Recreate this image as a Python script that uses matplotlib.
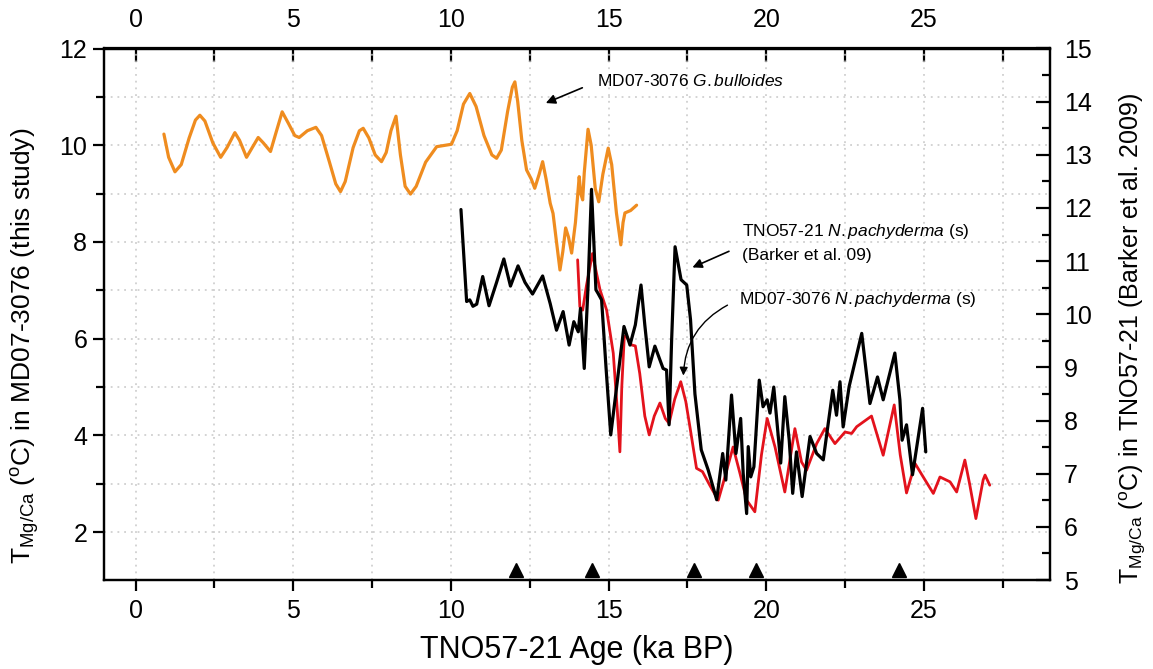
import matplotlib
matplotlib.use("Agg")
import matplotlib.pyplot as plt
from matplotlib.ticker import MultipleLocator

plt.rcParams['font.family'] = ['Liberation Sans', 'DejaVu Sans']
plt.rcParams['mathtext.fontset'] = 'custom'
plt.rcParams['mathtext.rm'] = 'Liberation Sans'
plt.rcParams['mathtext.it'] = 'Liberation Sans:italic'
plt.rcParams['mathtext.default'] = 'regular'

# ---- data (ages in ka BP) ----
bull_age = [0.90, 1.05, 1.25, 1.45, 1.70, 1.90, 2.04, 2.20, 2.45, 2.70, 2.90, 3.15, 3.30, 3.52, 3.70,
            3.89, 4.05, 4.28, 4.45, 4.65, 4.85, 5.05, 5.19, 5.45, 5.72, 5.90, 6.15, 6.35, 6.50, 6.65,
            6.90, 7.10, 7.22, 7.40, 7.60, 7.80, 7.95, 8.10, 8.26, 8.40, 8.55, 8.72, 8.90, 9.20, 9.55,
            10.02, 10.20, 10.40, 10.60, 10.80, 11.05, 11.30, 11.45, 11.60, 11.80, 11.95, 12.03, 12.12,
            12.25, 12.40, 12.55, 12.66, 12.80, 12.91, 13.02, 13.15, 13.24, 13.35, 13.46, 13.55, 13.64,
            13.73, 13.83, 13.95, 14.07, 14.12, 14.18, 14.23, 14.35, 14.45, 14.58, 14.69, 14.82, 14.99,
            15.10, 15.25, 15.39, 15.46, 15.52, 15.70, 15.89]
bull_temp = [10.23, 9.75, 9.45, 9.60, 10.15, 10.52, 10.62, 10.50, 10.05, 9.75, 9.95, 10.26, 10.10, 9.75, 9.95,
             10.16, 10.05, 9.87, 10.25, 10.69, 10.45, 10.20, 10.16, 10.30, 10.37, 10.20, 9.65, 9.20, 9.04, 9.25,
             9.95, 10.30, 10.35, 10.15, 9.80, 9.66, 9.85, 10.30, 10.60, 9.80, 9.15, 8.99, 9.15, 9.65, 9.97,
             10.02, 10.30, 10.85, 11.07, 10.80, 10.20, 9.80, 9.73, 9.90, 10.70, 11.20, 11.31, 10.90,
             10.10, 9.49, 9.30, 9.11, 9.40, 9.66, 9.30, 8.80, 8.59, 8.00, 7.42, 7.80, 8.29,
             8.10, 7.77, 8.40, 9.35, 9.00, 8.87, 9.43, 10.33, 10.00, 9.10, 8.83, 9.40, 9.94,
             9.60, 8.60, 7.94, 8.40, 8.60, 8.65, 8.76]

tno_age = [10.32, 10.50, 10.60, 10.70, 10.82, 11.01, 11.21, 11.45, 11.68, 11.89, 12.13, 12.35, 12.59, 12.91,
           13.15, 13.35, 13.56, 13.75, 13.90, 14.04, 14.11, 14.23, 14.35, 14.46, 14.60, 14.67, 14.78, 14.92,
           15.07, 15.25, 15.49, 15.68, 15.85, 16.03, 16.15, 16.29, 16.47, 16.73, 16.84, 16.92, 17.00, 17.11,
           17.30, 17.48, 17.60, 17.74, 17.94, 18.16, 18.43, 18.62, 18.72, 18.90, 19.04, 19.19, 19.27, 19.38,
           19.43, 19.51, 19.61, 19.78, 19.90, 20.03, 20.12, 20.24, 20.46, 20.59, 20.73, 20.84, 20.96, 21.14,
           21.39, 21.60, 21.81, 22.11, 22.23, 22.34, 22.44, 22.63, 23.03, 23.29, 23.53, 23.71, 24.08, 24.24,
           24.31, 24.45, 24.64, 24.96, 25.06]
tno_temp = [11.97, 10.24, 10.27, 10.15, 10.19, 10.71, 10.16, 10.60, 11.04, 10.53, 10.91, 10.60, 10.38, 10.72,
            10.20, 9.70, 10.05, 9.42, 9.86, 9.67, 10.11, 8.98, 10.52, 12.35, 10.46, 10.39, 10.27, 9.00,
            7.73, 8.60, 9.77, 9.42, 9.80, 10.55, 9.80, 9.01, 9.40, 8.98, 8.95, 7.92, 9.50, 11.27,
            10.65, 10.55, 9.90, 8.50, 7.45, 7.07, 6.51, 7.38, 6.88, 8.48, 7.38, 8.04, 7.01, 6.25,
            7.51, 6.94, 7.13, 8.76, 8.26, 8.39, 8.14, 8.63, 7.20, 8.45, 7.63, 6.63, 7.41, 6.57,
            7.70, 7.38, 7.26, 8.57, 8.10, 8.73, 7.88, 8.64, 9.64, 8.32, 8.82, 8.39, 9.27, 8.39,
            7.63, 7.92, 6.98, 8.23, 7.41]

pachy_age = [14.02, 14.09, 14.18, 14.30, 14.49, 14.62, 14.73, 14.94, 15.15, 15.28, 15.36, 15.42, 15.50, 15.57,
             15.73, 15.85, 15.99, 16.15, 16.29, 16.45, 16.63, 16.80, 16.92, 17.10, 17.29, 17.45, 17.58, 17.79,
             17.98, 18.21, 18.48, 18.69, 18.95, 19.17, 19.38, 19.64, 19.85, 20.03, 20.28, 20.59, 20.91, 21.12,
             21.28, 21.60, 21.86, 22.18, 22.50, 22.71, 22.87, 23.34, 23.71, 24.06, 24.25, 24.45, 24.72, 24.98,
             25.30, 25.51, 25.83, 26.04, 26.30, 26.45, 26.65, 26.88, 26.94, 27.09]
pachy_temp = [7.63, 6.66, 6.59, 7.10, 7.76, 7.35, 7.01, 6.59, 5.70, 4.50, 3.66, 5.00, 6.05, 6.04,
              5.87, 5.85, 5.28, 4.40, 4.01, 4.40, 4.67, 4.35, 4.25, 4.75, 5.11, 4.70, 4.18, 3.32,
              3.25, 2.97, 2.66, 3.14, 3.76, 3.21, 2.66, 2.42, 3.60, 4.35, 3.76, 2.83, 4.14, 3.45,
              3.28, 3.83, 4.14, 3.83, 4.07, 4.04, 4.18, 4.40, 3.59, 4.63, 3.60, 2.81, 3.42, 3.14,
              2.80, 3.14, 3.04, 2.83, 3.49, 3.00, 2.28, 3.08, 3.18, 2.97]

tiepoint_age = [12.08, 14.49, 17.71, 19.67, 24.22]
tiepoint_level = 1.21

fig = plt.figure(figsize=(11.53, 6.69), dpi=100)
ax = fig.add_axes([104/1153, 1-580/669, (1050-104)/1153, (580-48.5)/669])
ax2 = ax.twinx()

ax.set_xlim(-1, 29)
ax.set_ylim(1.01, 12)
ax2.set_ylim(5, 15)

grid_kw = dict(color='#c8c8c8', linestyle=(0, (1.2, 3.2)), linewidth=1.1)
ax.xaxis.set_major_locator(MultipleLocator(5))
ax.xaxis.set_minor_locator(MultipleLocator(2.5))
ax.yaxis.set_major_locator(MultipleLocator(2))
ax.yaxis.set_minor_locator(MultipleLocator(1))
ax.grid(True, which='both', **grid_kw)
ax.set_axisbelow(True)

ax2.yaxis.set_major_locator(MultipleLocator(1))
ax2.yaxis.set_minor_locator(MultipleLocator(0.5))

line_kw = dict(solid_joinstyle='round', solid_capstyle='round', zorder=3)
ax.plot(bull_age, bull_temp, color='#EF8C1F', lw=2.3, **line_kw)
ax.plot(pachy_age, pachy_temp, color='#E3121C', lw=2.0, **line_kw)
ax2.plot(tno_age, tno_temp, color='black', lw=2.3, **line_kw)
ax.plot(tiepoint_age, [tiepoint_level]*len(tiepoint_age), linestyle='none', marker='^',
        color='black', markersize=10, zorder=4)

for sp in list(ax.spines.values()) + list(ax2.spines.values()):
    sp.set_linewidth(1.6)

ax.tick_params(axis='both', which='both', labelsize=18, width=1.6)
ax.tick_params(axis='x', which='major', direction='out', length=8, pad=6)
ax.tick_params(axis='x', which='minor', direction='out', length=6)
ax.tick_params(axis='y', which='major', direction='out', length=8, pad=4)
ax.tick_params(axis='y', which='minor', direction='out', length=6)
ax2.tick_params(axis='y', which='major', direction='in', length=10, width=1.6, labelsize=18, pad=10)
ax2.tick_params(axis='y', which='minor', direction='in', length=6, width=1.6)

top = ax.secondary_xaxis('top')
top.xaxis.set_major_locator(MultipleLocator(5))
top.xaxis.set_minor_locator(MultipleLocator(2.5))
top.tick_params(axis='x', which='major', direction='in', length=10, width=1.6, labelsize=18, pad=12)
top.tick_params(axis='x', which='minor', direction='in', length=10, width=1.6)
top.spines['top'].set_linewidth(1.6)

ax.set_xlabel('TNO57-21 Age (ka BP)', fontsize=22)
ax.xaxis.set_label_coords(0.5, -0.103)
ax.set_ylabel(r'T$_{\mathregular{Mg/Ca}}$ ($^{\mathregular{o}}$C) in MD07-3076 (this study)', fontsize=19)
ax.yaxis.set_label_coords(-0.066, 0.44)
ax2.set_ylabel(r'T$_{\mathregular{Mg/Ca}}$ ($^{\mathregular{o}}$C) in TNO57-21 (Barker et al. 2009)', fontsize=18)
ax2.yaxis.set_label_coords(1.072, 0.455)

arrow_kw = dict(arrowstyle='-|>', color='black', lw=1.2, mutation_scale=14)
ax.annotate('', xy=(12.93, 10.85), xytext=(14.25, 11.21), arrowprops=arrow_kw, zorder=6)
ax.text(14.62, 11.33, r'MD07-3076 $\it{G.bulloides}$', fontsize=12.5, va='center', ha='left')

ax.text(19.22, 8.21, r'TNO57-21 $\it{N.pachyderma}$ (s)', fontsize=12.5, va='center', ha='left')
ax.text(19.22, 7.73, '(Barker et al. 09)', fontsize=12.5, va='center', ha='left')
ax.annotate('', xy=(17.58, 7.45), xytext=(18.90, 7.83), arrowprops=arrow_kw, zorder=6)

ax.text(19.14, 6.80, r'MD07-3076 $\it{N.pachyderma}$ (s)', fontsize=12.5, va='center', ha='left')
ax.annotate('', xy=(17.37, 5.18), xytext=(18.85, 6.72),
            arrowprops=dict(arrowstyle='-|>', color='black', lw=1.0, mutation_scale=12,
                            connectionstyle='arc3,rad=0.3'), zorder=6)

fig.savefig('out.png', dpi=100)
